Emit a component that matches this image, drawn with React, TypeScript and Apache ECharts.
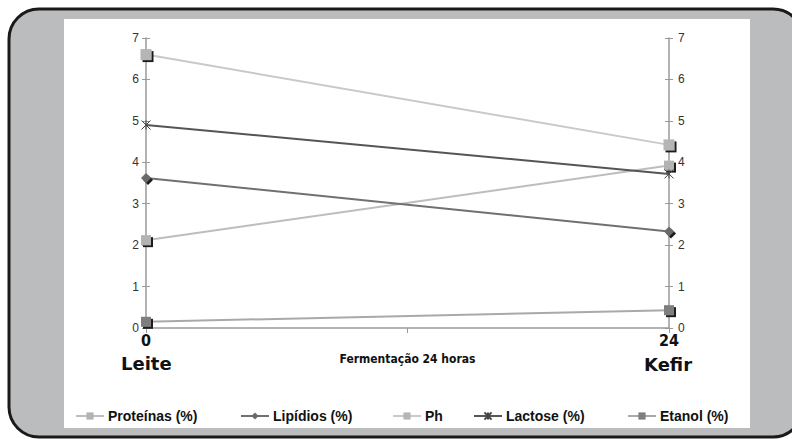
import React, { useEffect, useRef } from "react";
import * as echarts from "echarts";

const hours = [0, 24];
const hourLabels = ["0", "24"];
const proteinas = [2.12, 3.92];
const lipidios = [3.62, 2.33];
const ph = [6.6, 4.42];
const lactose = [4.9, 3.72];
const etanol = [0.15, 0.43];
const yTicks = [0, 1, 2, 3, 4, 5, 6, 7];

const seriesNames = ["Proteínas (%)", "Lipídios (%)", "Ph", "Lactose (%)", "Etanol (%)"];
const legendLeft = [75, 240, 392, 473, 627];

const zip = (vals: number[]) => hours.map((h, i) => [h, vals[i]]);

const FONT = "'Liberation Sans', Arial, sans-serif";
const NARROW = "'Liberation Sans Narrow', 'DejaVu Sans Condensed', 'Liberation Sans', sans-serif";

export default function App() {
  const ref = useRef<HTMLDivElement>(null);
  useEffect(() => {
    if (!ref.current) return;
    const chart = echarts.init(ref.current, undefined, { renderer: "svg" });
    const shadow = { shadowColor: "#1a1a1a", shadowOffsetX: 2, shadowOffsetY: 2, shadowBlur: 0 };
    const mk = (
      name: string,
      vals: number[],
      lineColor: string,
      symColor: string,
      symbol: string,
      size: number,
      extra: any = {}
    ) => ({
      name,
      type: "line",
      data: zip(vals),
      symbol,
      symbolSize: size,
      lineStyle: { color: lineColor, width: 2 },
      itemStyle: { color: symColor, ...shadow, ...extra },
      z: 3,
    });
    const series: any[] = [
      mk("Proteínas (%)", proteinas, "#bdbdbd", "#b3b3b3", "rect", 10),
      mk("Lipídios (%)", lipidios, "#707070", "#6a6a6a", "diamond", 10),
      mk("Ph", ph, "#c9c9c9", "#b5b5b5", "rect", 11),
      {
        name: "Lactose (%)",
        type: "line",
        data: zip(lactose),
        symbol: "path://M0,0L10,10M10,0L0,10M5,0L5,10",
        symbolSize: 9,
        lineStyle: { color: "#555555", width: 2 },
        itemStyle: { color: "none", borderColor: "#444", borderWidth: 1 },
        z: 3,
      },
      mk("Etanol (%)", etanol, "#a9a9a9", "#7e7e7e", "rect", 10),
    ];
    const yBase = {
      type: "value",
      min: 0,
      max: 7,
      interval: 1,
      splitLine: { show: false },
      axisLine: { show: true, lineStyle: { color: "#9a9a9a", width: 1.5 } },
    };
    const option: any = {
      animation: false,
      backgroundColor: "transparent",
      graphic: [
        {
          type: "rect",
          shape: { x: 9, y: 9, width: 794, height: 428, r: 30 },
          style: { fill: "#bbbcbe", stroke: "#1a1a1a", lineWidth: 3 },
          z: -10,
        },
        {
          type: "rect",
          shape: { x: 64, y: 19, width: 686, height: 409 },
          style: { fill: "#ffffff" },
          z: -9,
        },
        {
          type: "text",
          left: 121,
          top: 354,
          style: { text: "Leite", font: "900 18px 'DejaVu Sans', sans-serif", fill: "#111" },
        },
        {
          type: "text",
          left: 644,
          top: 355,
          style: { text: "Kefir", font: "900 18px 'DejaVu Sans', sans-serif", fill: "#111" },
        },
      ],
      legend: seriesNames.map((n, i) => ({
        data: [n],
        left: legendLeft[i],
        top: 409,
        padding: 0,
        itemWidth: 28,
        itemHeight: 9,
        itemGap: 0,
        textStyle: { fontSize: 14, fontWeight: "bold", fontFamily: FONT, color: "#111", padding: [0, 0, 0, -1] },
      })),
      grid: { left: 146, right: 123, top: 38, bottom: 111, containLabel: false },
      xAxis: {
        type: "value",
        min: 0,
        max: 24,
        interval: 12,
        name: "Fermentação 24 horas",
        nameLocation: "middle",
        nameGap: 20,
        nameTextStyle: { fontSize: 12, fontWeight: "bold", fontFamily: NARROW, color: "#111" },
        splitLine: { show: false },
        axisLine: { show: true, onZero: false, lineStyle: { color: "#9a9a9a", width: 1.5 } },
        axisTick: { show: true, length: 5, lineStyle: { color: "#9a9a9a" } },
        axisLabel: {
          fontSize: 16,
          fontWeight: "bold",
          fontFamily: NARROW,
          color: "#111",
          margin: 4,
          formatter: (v: number) => {
            const i = hours.indexOf(v);
            return i >= 0 ? hourLabels[i] : "";
          },
        },
      },
      yAxis: [
        {
          ...yBase,
          position: "left",
          axisTick: { show: true, length: 4, lineStyle: { color: "#9a9a9a" } },
          axisLabel: {
            fontSize: 12,
            fontFamily: FONT,
            color: "#333",
            margin: 7,
            formatter: (v: number) => (yTicks.includes(v) ? String(v) : ""),
          },
        },
        {
          ...yBase,
          position: "right",
          axisTick: { show: true, length: 4, lineStyle: { color: "#9a9a9a" } },
          axisLabel: {
            fontSize: 12,
            fontFamily: FONT,
            color: "#333",
            margin: 9,
            formatter: (v: number) => (yTicks.includes(v) ? String(v) : ""),
          },
        },
        {
          ...yBase,
          position: "left",
          axisLine: { show: false },
          axisTick: { show: true, inside: true, length: 4, lineStyle: { color: "#9a9a9a" } },
          axisLabel: { show: false },
        },
        {
          ...yBase,
          position: "right",
          axisLine: { show: false },
          axisTick: { show: true, inside: true, length: 4, lineStyle: { color: "#9a9a9a" } },
          axisLabel: { show: false },
        },
      ],
      series,
    };
    chart.setOption(option);
    return () => chart.dispose();
  }, []);
  return (
    <div
      ref={ref}
      style={{ position: "absolute", left: 0, top: 0, width: 792, height: 439 }}
    />
  );
}
